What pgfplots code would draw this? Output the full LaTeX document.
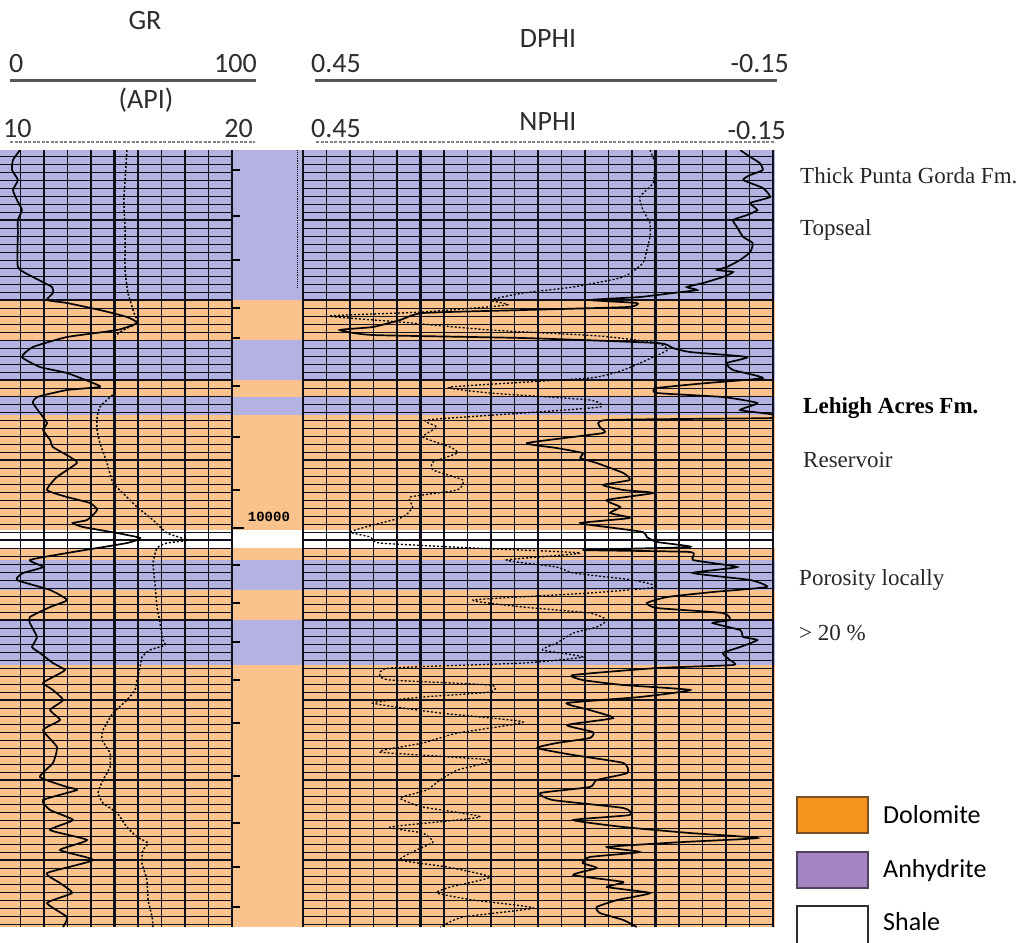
\documentclass[border=0pt]{standalone}
\usepackage{fontspec}
\setmainfont{Liberation Serif}
\newfontfamily\carl{Carlito}
\newfontfamily\lmono{Liberation Mono}
\usepackage{pgfplots}
\usepackage{pgfplotstable}
\pgfplotsset{compat=1.18}
\definecolor{dolband}{RGB}{250,194,140}
\definecolor{anhband}{RGB}{180,178,224}
\definecolor{dolleg}{RGB}{247,148,30}
\definecolor{dolbord}{RGB}{120,80,40}
\definecolor{anhleg}{RGB}{163,133,194}
\definecolor{anhbord}{RGB}{80,65,95}
\definecolor{gridc}{RGB}{15,15,25}
\definecolor{hdr}{RGB}{45,45,45}

% GR (API) vs depth (ft)
\pgfplotstableread{
gr depth
9.8 9905.5
6.8 9908
6.4 9910.5
8.9 9913
6.8 9915.5
8.5 9918
10.6 9920.5
8.9 9923
8.9 9926.25
8.9 9934.75
15.3 9937.25
23.4 9939.75
23.8 9941.25
21.3 9943
29.8 9943.75
43.8 9945.5
55.3 9947.25
59.6 9948.75
51.1 9950.5
29.8 9952.25
15.3 9954.75
10.6 9957.25
18.3 9959.75
29.8 9961.25
40.9 9963.75
43.8 9964.75
29.8 9965.5
17.0 9967.25
15.3 9968.75
18.3 9971.25
21.3 9973.75
19.6 9975.5
22.6 9978
23.8 9979.75
31.1 9982.25
34.0 9983.75
25.5 9987.25
21.3 9990.5
29.8 9992.25
39.6 9993.75
42.6 9995.5
38.3 9998
32.3 9998.75
36.6 9999.75
51.1 10001.25
60.9 10002.5
55.3 10003.75
29.8 10006.25
14.0 10008
19.6 10009.75
11.1 10011.25
8.5 10013
22.6 10015.5
29.8 10018
22.6 10019.75
14.0 10022.25
14.0 10023.75
17.0 10027.25
14.9 10029.75
18.3 10031.25
23.8 10033.75
28.9 10035.5
23.8 10037.25
19.6 10038.75
23.8 10040.5
28.1 10043
22.6 10045.5
26.8 10048
19.6 10050.5
25.5 10054.75
23.8 10058.75
18.3 10062.25
29.8 10064.75
34.0 10065.5
19.6 10068
22.6 10070.5
32.3 10073
22.6 10075.5
38.3 10078
26.8 10080.5
40.9 10083
21.3 10086.25
26.8 10088.75
31.9 10091.25
21.3 10093.75
29.8 10097.25
28.1 10099.75
}\grtable

% second (dashed) curve, 10--20 scale
\pgfplotstableread{
v depth
15.53 9905.5
15.40 9918
15.45 9925.5
15.45 9935.5
15.57 9941.25
15.66 9943
15.83 9946.25
15.96 9948.75
15.02 9952.25
15.02 9965.5
14.81 9967.25
14.38 9969.75
14.26 9972.25
14.26 9975.5
14.38 9978.75
14.68 9983.75
14.94 9988.75
15.53 9992.25
15.96 9994.75
16.64 9998
17.23 10001.25
18.09 10003
17.23 10003.75
16.81 10005
16.64 10008.75
16.72 10013.75
16.81 10019.75
16.94 10023.75
17.06 10028
17.15 10029.25
16.51 10030.5
16.17 10032.25
16.09 10034.75
15.96 10038
15.87 10040.5
15.53 10043
14.94 10046.25
14.51 10050.5
14.47 10053
14.81 10056.25
14.81 10059.75
14.51 10063
14.30 10066.25
14.51 10068.75
15.11 10071.25
15.53 10074.75
15.96 10077.25
16.43 10078.75
16.21 10080.5
16.17 10083.75
16.38 10088
16.43 10093
16.60 10097.25
16.64 10099.75
}\grbtable

% DPHI vs depth
\pgfplotstableread{
phi depth
-0.108 9905.5
-0.121 9907.25
-0.133 9908.75
-0.137 9910.5
-0.121 9911.75
-0.112 9913
-0.137 9915
-0.146 9917.25
-0.121 9918.75
-0.130 9920.5
-0.117 9921.75
-0.099 9923
-0.104 9924.75
-0.112 9927.25
-0.124 9928.75
-0.121 9931
-0.108 9933
-0.091 9934.75
-0.079 9935.5
-0.099 9936
-0.086 9937.25
-0.061 9938.75
-0.040 9939.75
-0.053 9940.5
-0.022 9941.25
0.020 9942.25
0.084 9943
0.024 9943.75
0.036 9944.75
0.169 9945.5
0.297 9946.25
0.326 9948
0.361 9949.75
0.403 9950.5
0.361 9951.75
0.169 9952.5
-0.002 9953.75
-0.022 9955
-0.044 9956
-0.117 9957.25
-0.091 9958.75
-0.099 9960.5
-0.137 9962.5
-0.066 9963.75
-0.002 9965
-0.002 9966.25
-0.086 9967.25
-0.130 9968.75
-0.108 9970.5
-0.146 9971.5
-0.150 9972.5
0.062 9973
0.071 9974.75
0.067 9976.25
0.164 9978.75
0.126 9980
0.093 9981.25
0.096 9982.5
0.075 9983.75
0.041 9986.25
0.033 9988
0.067 9989.25
0.041 9990.5
0.003 9991.25
0.062 9993
0.045 9994.75
0.058 9996.25
0.033 9997.5
0.096 9998.75
0.062 9999.75
0.016 10001
0.011 10002.25
-0.002 10003.5
-0.044 10004.75
0.093 10005.5
-0.044 10006
-0.048 10008
-0.104 10009.75
-0.048 10011.25
-0.121 10013
-0.142 10014.75
-0.073 10016
-0.015 10017.25
0.011 10018.75
-0.002 10020
-0.086 10021.25
-0.095 10023
-0.073 10023.75
-0.108 10025.5
-0.112 10027.25
-0.130 10028
-0.108 10029.75
-0.086 10031.25
-0.095 10033
-0.099 10034.25
-0.002 10035
0.105 10036.75
0.093 10038
0.041 10039.25
-0.044 10040.5
0.020 10042.25
0.113 10043.75
0.084 10045.5
0.054 10047.5
0.113 10049.25
0.080 10051
0.084 10052.5
0.126 10053.75
0.151 10055
0.105 10056.75
0.041 10058.75
0.036 10061.25
0.075 10063
0.084 10064.75
0.147 10066.25
0.131 10068
0.041 10070
0.033 10071.75
0.105 10073
0.041 10074.75
-0.044 10076.25
-0.130 10077.5
-0.035 10078.5
0.062 10079.75
0.020 10081
0.084 10082.25
0.093 10083.75
0.075 10085
0.105 10086.75
0.041 10088.5
0.062 10089.75
0.007 10091.25
0.049 10093
0.075 10094.75
0.071 10096.25
0.041 10098
0.024 10099.75
}\dphitable

% NPHI vs depth
\pgfplotstableread{
phi depth
0.007 9905.5
0.001 9908.75
0.003 9913.75
0.020 9917.25
0.016 9920.5
0.007 9923.75
0.007 9927.25
0.011 9930.5
0.016 9933.75
0.041 9937.25
0.105 9939.75
0.169 9941.25
0.211 9943
0.190 9944.25
0.297 9946
0.416 9947
0.326 9948.5
0.211 9950.5
0.071 9952
-0.002 9953.75
-0.015 9955.5
0.011 9958
0.041 9960.5
0.084 9962.5
0.262 9964.75
0.211 9966.25
0.084 9968
0.071 9969.75
0.169 9971.25
0.292 9973
0.279 9974.75
0.297 9977.25
0.262 9979.75
0.253 9981.25
0.284 9983.5
0.284 9985.5
0.246 9988
0.253 9990.5
0.313 9992.25
0.310 9994.75
0.322 9997.25
0.361 9999.25
0.390 10001
0.364 10002.25
0.352 10003.75
0.233 10005
0.096 10006.25
0.190 10008
0.126 10009.75
0.105 10011.25
0.029 10013
-0.002 10014.75
0.084 10016.25
0.233 10018
0.169 10019.75
0.084 10021.25
0.062 10023
0.075 10024.75
0.105 10026.25
0.126 10028.75
0.144 10030.5
0.093 10032.25
0.169 10033.75
0.339 10035
0.352 10036.75
0.339 10038
0.211 10039.25
0.211 10041
0.297 10042.25
0.361 10043.75
0.275 10046.25
0.169 10048.5
0.253 10051.25
0.297 10053.75
0.352 10056
0.211 10058
0.253 10060.5
0.275 10063
0.292 10065.5
0.326 10067.5
0.297 10069.75
0.224 10072.25
0.339 10074.75
0.297 10076.25
0.284 10078.5
0.305 10080.5
0.326 10083
0.266 10084.75
0.211 10087.25
0.262 10089.75
0.279 10091.25
0.233 10093
0.156 10095
0.246 10097.25
0.275 10099.75
}\nphitable

\pgfplotsset{
  track/.style={scale only axis, anchor=north west, y dir=reverse,
    ymin=9905.5, ymax=10099.75, height=777pt,
    axis line style={draw=none}, tick style={draw=none},
    scaled ticks=false,
    xticklabels={}, yticklabels={}},
  depthgrid/.style={grid=both,
    ytick={9923,9943,...,10083}, minor ytick={9907,9909,...,10099},
    major x grid style={gridc, line width=2.2pt},
    minor x grid style={gridc, line width=1.2pt},
    major y grid style={gridc, line width=1.9pt},
    minor y grid style={gridc, line width=0.9pt}},
}

\begin{document}
\begin{tikzpicture}
\useasboundingbox (0,0) rectangle (1024pt,-942pt);

% lithology bands (background)
\begin{axis}[track, at={(0pt,-150pt)}, width=775pt, xmin=0, xmax=775, xtick=\empty, ytick=\empty]
\addplot[fill=anhband, draw=none] coordinates {(0,9905.5) (775,9905.5) (775,9943) (0,9943)} -- cycle;
\addplot[fill=dolband, draw=none] coordinates {(0,9943) (775,9943) (775,9953) (0,9953)} -- cycle;
\addplot[fill=anhband, draw=none] coordinates {(0,9953) (775,9953) (775,9963) (0,9963)} -- cycle;
\addplot[fill=dolband, draw=none] coordinates {(0,9963) (775,9963) (775,9967.25) (0,9967.25)} -- cycle;
\addplot[fill=anhband, draw=none] coordinates {(0,9967.25) (775,9967.25) (775,9971.75) (0,9971.75)} -- cycle;
\addplot[fill=dolband, draw=none] coordinates {(0,9971.75) (775,9971.75) (775,10000.5) (0,10000.5)} -- cycle;
\addplot[fill=white, draw=none] coordinates {(0,10000.5) (775,10000.5) (775,10005) (0,10005)} -- cycle;
\addplot[fill=dolband, draw=none] coordinates {(0,10005) (775,10005) (775,10008) (0,10008)} -- cycle;
\addplot[fill=anhband, draw=none] coordinates {(0,10008) (775,10008) (775,10015.5) (0,10015.5)} -- cycle;
\addplot[fill=dolband, draw=none] coordinates {(0,10015.5) (775,10015.5) (775,10023) (0,10023)} -- cycle;
\addplot[fill=anhband, draw=none] coordinates {(0,10023) (775,10023) (775,10034.25) (0,10034.25)} -- cycle;
\addplot[fill=dolband, draw=none] coordinates {(0,10034.25) (775,10034.25) (775,10099.75) (0,10099.75)} -- cycle;
\end{axis}

% GR track
\begin{axis}[track, depthgrid, at={(-3pt,-150pt)}, width=235pt, xmin=0, xmax=100,
  xtick={50,100}, minor xtick={10,20,30,40,60,70,80,90}]
\addplot[black, line width=1.7pt, smooth, tension=0.3] table[x=gr, y=depth] {\grtable};
\end{axis}
\begin{axis}[track, at={(-3pt,-150pt)}, width=235pt, xmin=10, xmax=20, xtick=\empty, ytick=\empty]
\addplot[black, line width=1.5pt, dash pattern=on 2pt off 2pt, smooth, tension=0.3] table[x=v, y=depth] {\grbtable};
\end{axis}

% depth column
\begin{axis}[track, at={(232pt,-150pt)}, width=71pt, xmin=0, xmax=1, xtick=\empty, ytick=\empty, clip=false]
\addplot[only marks, mark=-, mark size=4pt, mark options={line width=1.6pt}, black] coordinates {
(0.05,9910.5) (0.05,9922) (0.05,9933) (0.05,9945) (0.05,9952.5) (0.05,9964.5) (0.05,9977.25)
(0.05,9990.5) (0.05,10009.25) (0.05,10018.75) (0.05,10028.5) (0.05,10038) (0.05,10048.75)
(0.05,10062) (0.05,10073.75) (0.05,10084.75) (0.05,10094.75)};
\addplot[only marks, mark=-, mark size=6pt, mark options={line width=2pt}, black] coordinates {(0.08,10000)};
\addplot[black, line width=0.9pt, densely dotted] coordinates {(0.915,9905.5) (0.915,9940)};
\node[font={\lmono\bfseries\fontsize{14}{14}\selectfont}, inner sep=0pt] at (axis cs:0.52,9997.25) {10000};
\end{axis}

% porosity track
\begin{axis}[track, depthgrid, at={(303pt,-150pt)}, width=470pt, xmin=-0.15, xmax=0.45, x dir=reverse,
  xtick={-0.15,0,0.15,0.30,0.45},
  minor xtick={-0.12,-0.09,-0.06,-0.03,0.03,0.06,0.09,0.12,0.18,0.21,0.24,0.27,0.33,0.36,0.39,0.42}]
\addplot[black, line width=1.3pt, dash pattern=on 2pt off 2pt, smooth, tension=0.3] table[x=phi, y=depth] {\nphitable};
\addplot[black, line width=1.7pt, smooth, tension=0.3] table[x=phi, y=depth] {\dphitable};
\end{axis}

% headers
\begin{scope}[every node/.style={inner sep=0pt, text=hdr, font={\carl\fontsize{28}{30}\selectfont}}]
\node[anchor=base] at (145pt,-30pt) {GR};
\node[anchor=base west] at (9pt,-72pt) {0};
\node[anchor=base east] at (257pt,-72pt) {100};
\draw[line width=3pt, hdr!80] (10pt,-80pt) -- (256pt,-80pt);
\node[anchor=base] at (146pt,-108pt) {(API)};
\node[anchor=base west] at (3pt,-137pt) {10};
\node[anchor=base east] at (253pt,-137pt) {20};
\draw[line width=2.5pt, hdr!60, dash pattern=on 3pt off 1.5pt] (10pt,-142pt) -- (255pt,-142pt);
\node[anchor=base] at (548pt,-48pt) {DPHI};
\node[anchor=base west] at (311pt,-72pt) {0.45};
\node[anchor=base east] at (789pt,-72pt) {-0.15};
\draw[line width=3pt, hdr!80] (315pt,-80pt) -- (777pt,-80pt);
\node[anchor=base] at (548pt,-130pt) {NPHI};
\node[anchor=base west] at (311pt,-137pt) {0.45};
\node[anchor=base east] at (786pt,-139pt) {-0.15};
\draw[line width=2.5pt, hdr!60, dash pattern=on 3pt off 1.5pt] (316pt,-142pt) -- (775pt,-142pt);
\end{scope}

% annotations
\begin{scope}[every node/.style={inner sep=0pt, anchor=base west, text=black!85, font={\fontsize{23}{25}\selectfont}}]
\node at (800pt,-183pt) {Thick Punta Gorda Fm.};
\node at (800pt,-235pt) {Topseal};
\node[font={\bfseries\fontsize{23}{25}\selectfont}, text=black] at (803pt,-413pt) {Lehigh Acres Fm.};
\node at (803pt,-467pt) {Reservoir};
\node at (799pt,-585pt) {Porosity locally};
\node at (799pt,-640pt) {> 20 \%};
\end{scope}

% legend
\draw[fill=dolleg, draw=dolbord, line width=1.5pt] (797pt,-797pt) rectangle (868pt,-833pt);
\draw[fill=anhleg, draw=anhbord, line width=1.5pt] (797pt,-852pt) rectangle (868pt,-888pt);
\draw[fill=white, draw=hdr, line width=1.5pt] (797pt,-906pt) rectangle (868pt,-950pt);
\begin{scope}[every node/.style={inner sep=0pt, anchor=base west, text=black, font={\carl\fontsize{26}{28}\selectfont}}]
\node at (883pt,-823pt) {Dolomite};
\node at (883pt,-877pt) {Anhydrite};
\node at (883pt,-930pt) {Shale};
\end{scope}
\end{tikzpicture}
\end{document}
